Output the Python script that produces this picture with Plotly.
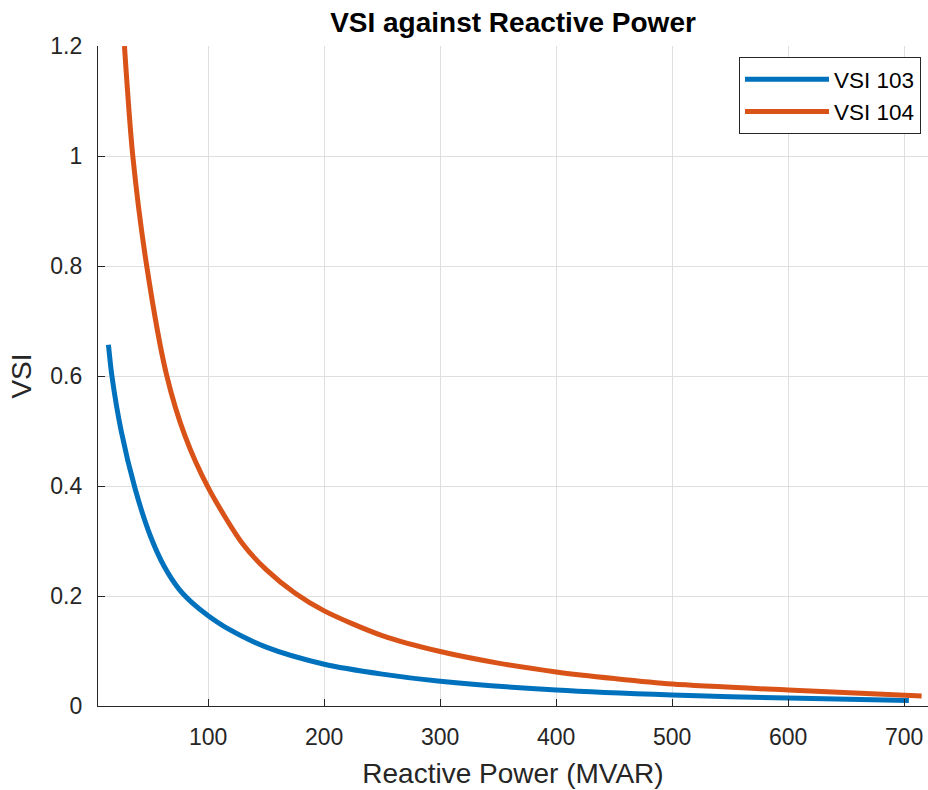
import plotly.graph_objects as go

# VSI 103 (blue)
q_103 = [14, 17, 25, 37, 50, 62, 75, 87, 100, 115, 150, 200, 250, 300, 400, 500, 600, 704]
vsi_103 = [0.657, 0.60, 0.50, 0.395, 0.31, 0.254, 0.212, 0.186, 0.164, 0.143, 0.107, 0.076, 0.058, 0.045, 0.029, 0.020, 0.0145, 0.0099]

# VSI 104 (orange)
q_104 = [27.8, 35, 47, 64, 80, 100, 130, 150, 175, 200, 250, 300, 350, 400, 450, 500, 600, 715]
vsi_104 = [1.20, 1.00, 0.80, 0.603, 0.491, 0.397, 0.294, 0.248, 0.205, 0.173, 0.128, 0.099, 0.078, 0.062, 0.050, 0.040, 0.029, 0.018]

series_names = ["VSI 103", "VSI 104"]
series_colors = ["#0072BD", "#D95319"]

x_ticks = [100, 200, 300, 400, 500, 600, 700]
y_ticks = [0, 0.2, 0.4, 0.6, 0.8, 1.0, 1.2]

FONT = "Liberation Sans, Arial, Helvetica, sans-serif"
AX = "#262626"
GRID = "#dfdfdf"

fig = go.Figure()
for xs, ys, name, col in [(q_103, vsi_103, series_names[0], series_colors[0]),
                          (q_104, vsi_104, series_names[1], series_colors[1])]:
    fig.add_trace(go.Scatter(x=xs, y=ys, mode="lines", name=name,
                             line=dict(color=col, width=5, shape="spline", smoothing=0.8)))

fig.update_layout(
    width=928, height=790,
    margin=dict(l=98, r=0, t=46, b=84),
    paper_bgcolor="white", plot_bgcolor="white",
    font=dict(family=FONT, color=AX, size=23),
    title=dict(text="<b>VSI against Reactive Power</b>", x=(98 + 928) / 2 / 928, xanchor="center",
               y=1 - 22 / 790, yanchor="middle", yref="container",
               font=dict(family=FONT, size=28, color="#000000")),
    showlegend=True,
    legend=dict(x=(739 - 98) / 830, y=1 - (57 - 46) / 660, xanchor="left", yanchor="top",
                bgcolor="white", bordercolor=AX, borderwidth=1,
                font=dict(family=FONT, size=22.5, color="#000000"),
                itemwidth=84, tracegroupgap=0),
)
fig.update_xaxes(range=[5, 720.5], tickvals=x_ticks, ticks="inside", ticklen=7, tickcolor=AX,
                 showline=True, linecolor=AX, linewidth=1.2, mirror=False,
                 showgrid=True, gridcolor=GRID, gridwidth=1, zeroline=False,
                 tickfont=dict(size=23, color=AX), ticklabelstandoff=10,
                 title=dict(text="Reactive Power (MVAR)", font=dict(size=28, color=AX), standoff=14))
fig.update_yaxes(range=[0, 1.2], tickvals=y_ticks, ticktext=["0", "0.2", "0.4", "0.6", "0.8", "1", "1.2"],
                 ticks="inside", ticklen=7, tickcolor=AX,
                 showline=True, linecolor=AX, linewidth=1.2, mirror=False,
                 showgrid=True, gridcolor=GRID, gridwidth=1, zeroline=False,
                 tickfont=dict(size=23, color=AX), ticklabelstandoff=10,
                 title=dict(text="VSI", font=dict(size=28, color=AX), standoff=10))

fig.write_html("out.html")
